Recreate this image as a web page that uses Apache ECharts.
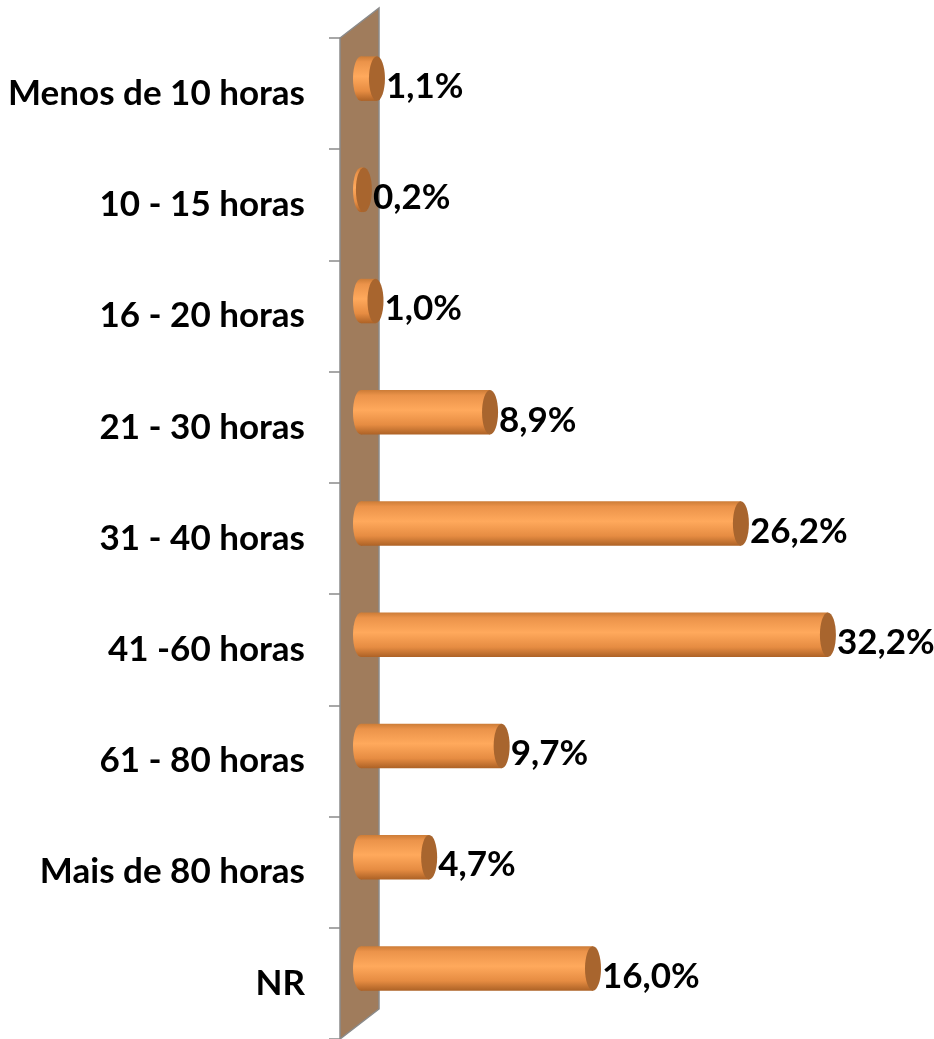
<!DOCTYPE html>
<html>
<head>
<meta charset="utf-8">
<script src="https://cdn.jsdelivr.net/npm/echarts@6/dist/echarts.min.js"></script>
<style>
  html, body { margin: 0; padding: 0; background: #fff; }
  #chart { width: 934px; height: 1039px; }
</style>
</head>
<body>
<div id="chart"></div>
<script>
const categories = ['Menos de 10 horas', '10 - 15 horas', '16 - 20 horas', '21 - 30 horas',
  '31 - 40 horas', '41 -60 horas', '61 - 80 horas', 'Mais de 80 horas', 'NR'];
const values = [1.1, 0.2, 1.0, 8.9, 26.2, 32.2, 9.7, 4.7, 16.0];

// 3d depth of the side wall (px)
const DEPTH_X = 39;
const DEPTH_Y = 30;
const FONT = 'bold 35px Lato, "DejaVu Sans", sans-serif';

const chart = echarts.init(document.getElementById('chart'));

function fmt(v) {
  return v.toFixed(1).replace('.', ',') + '%';
}

const bodyFill = new echarts.graphic.LinearGradient(0, 0, 0, 1, [
  { offset: 0, color: '#cc7c37' },
  { offset: 0.12, color: '#eb934a' },
  { offset: 0.45, color: '#ffa95c' },
  { offset: 0.78, color: '#e68c42' },
  { offset: 1, color: '#ad6226' }
]);

function renderWall(params, api) {
  const cs = params.coordSys;
  const x0 = api.coord([0, 0])[0];
  const top = cs.y, bottom = cs.y + cs.height;
  return {
    type: 'polygon',
    shape: {
      points: [[x0, top], [x0 + DEPTH_X, top - DEPTH_Y],
        [x0 + DEPTH_X, bottom - DEPTH_Y], [x0, bottom]]
    },
    style: { fill: '#a07c5c', stroke: '#8a8a8a', lineWidth: 1.5 }
  };
}

function renderBar(params, api) {
  const idx = api.value(1);
  const v = api.value(0);
  const start = api.coord([0, idx]);
  const end = api.coord([v, idx]);
  const band = api.size([0, 1])[1];
  const h = band * 0.4;
  const ry = h / 2;
  const rx = 8;
  const cy = start[1] - DEPTH_Y / 2;
  const x0 = start[0] + 21;
  const x1 = end[0] + 21;
  return {
    type: 'group',
    children: [
      {
        type: 'circle',
        shape: { cx: 0, cy: 0, r: ry },
        x: x0, y: cy, scaleX: rx / ry,
        style: { fill: bodyFill }
      },
      {
        type: 'rect',
        shape: { x: x0, y: cy - ry, width: Math.max(x1 - x0, 0), height: h },
        style: { fill: bodyFill }
      },
      {
        type: 'circle',
        shape: { cx: 0, cy: 0, r: ry },
        x: x1, y: cy, scaleX: rx / ry,
        style: { fill: '#a8652e' }
      },
      {
        type: 'text',
        style: {
          text: fmt(v), x: x1 + rx + 1, y: cy + 8,
          font: FONT, fill: '#000', align: 'left', verticalAlign: 'middle'
        }
      }
    ]
  };
}

chart.setOption({
  animation: false,
  grid: { left: 340, top: 38, width: 580, height: 1001 },
  xAxis: { type: 'value', min: 0, max: 40, show: false },
  yAxis: {
    type: 'category',
    data: categories,
    inverse: true,
    axisLine: { show: false },
    axisTick: { show: true, length: 11, lineStyle: { color: '#8a8a8a', width: 1.5 } },
    axisLabel: {
      margin: 35,
      color: '#000',
      fontFamily: 'Lato',
      fontWeight: 'bold',
      fontSize: 35
    },
    splitLine: { show: false }
  },
  series: [
    { type: 'custom', renderItem: renderWall, data: [[0, 0]], silent: true, z: 1 },
    {
      type: 'custom',
      renderItem: renderBar,
      data: values.map((v, i) => [v, i]),
      encode: { x: 0, y: 1 },
      z: 2
    }
  ]
});
</script>
</body>
</html>
